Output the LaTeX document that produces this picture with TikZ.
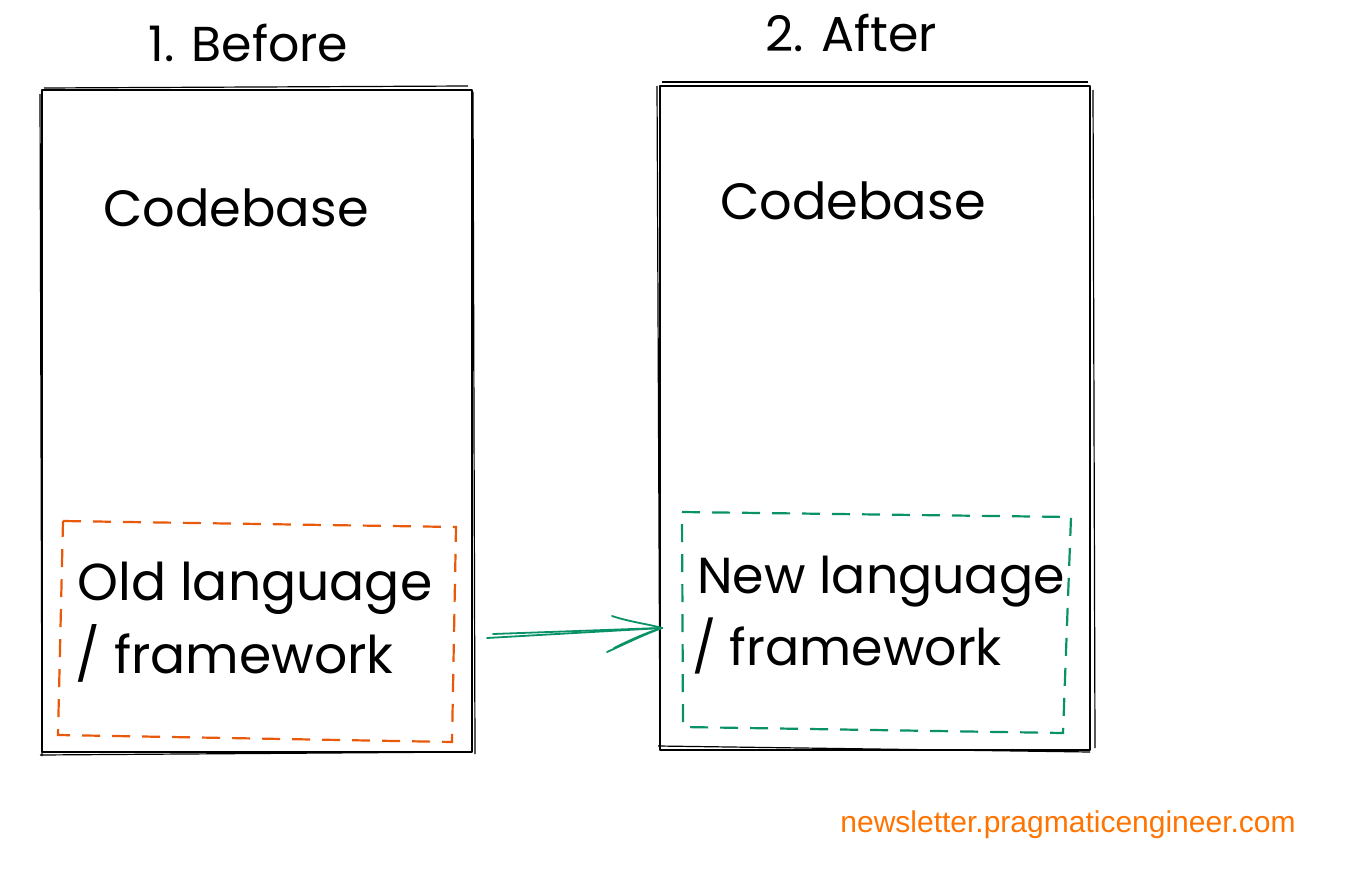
\documentclass[tikz,border=0pt]{standalone}
\usepackage{fontspec}
\setmainfont{Poppins}
\newfontfamily\footfont{Liberation Sans}
\usetikzlibrary{calc}
\definecolor{oldorange}{HTML}{E8590C}
\definecolor{newgreen}{HTML}{099268}
\definecolor{footorange}{HTML}{FF7300}
\tikzset{
  sketch/.style={draw=black, line width=1pt, line join=round},
  sketchthin/.style={draw=black, line width=0.6pt, line join=round},
  olddash/.style={draw=oldorange, line width=1.1pt, dash pattern=on 9pt off 6pt},
  newdash/.style={draw=newgreen, line width=1.1pt, dash pattern=on 9pt off 6pt},
  hand/.style={inner sep=0pt, anchor=base west, text=black},
  titletext/.style={hand, font=\fontsize{24.5}{29}\selectfont},
  codetext/.style={hand, font=\fontsize{25.5}{31}\selectfont},
  langtext/.style={hand, font=\fontsize{26}{32}\selectfont},
  newtext/.style={hand, font=\fontsize{25.3}{31}\selectfont},
  arrowline/.style={draw=newgreen, line width=0.9pt, line cap=round},
}
\begin{document}
\begin{tikzpicture}[x=0.5pt, y=-0.5pt]
\useasboundingbox (0,0) rectangle (1348,872);
% outer boxes as nodes
\node[sketch, minimum width=215pt, minimum height=331pt, inner sep=0pt] (Lbox) at (257,421) {};
\node[sketch, minimum width=215pt, minimum height=332pt, inner sep=0pt] (Rbox) at (875,418) {};
% sketchy second strokes
\draw[sketchthin] (44,88) -- (468,86);
\draw[sketchthin] (473,92) -- (475,754);
\draw[sketchthin] (40,755) -- (470,752);
\draw[sketchthin] (40,94) -- (42,756);
\draw[sketchthin] (662,82) -- (1088,82);
\draw[sketchthin] (1093,90) -- (1095,748);
\draw[sketchthin] (658,746) -- (1090,752);
\draw[sketchthin] (657,86) -- (660,750);
% titles
\node[titletext] (t1) at (148,62) {1. Before};
\node[titletext] (t2) at (765,52) {2. After};
% codebase labels
\node[codetext] (c1) at (103,226) {Codebase};
\node[codetext] (c2) at (720,219) {Codebase};
% dashed inner boxes
\draw[olddash] (63,521) -- (456,527) -- (452,742) -- (58,735) -- cycle;
\draw[newdash] (682,512) -- (1071,517) -- (1063,733) -- (683,727) -- cycle;
% language labels
\node[langtext] (o1) at (77,600) {Old language};
\node[langtext] (o2) at (75,673) {/ framework};
\node[newtext] (n1) at (697,593) {New language};
\node[newtext] (n2) at (692,665) {/ framework};
% arrow
\coordinate (as) at (487,638);
\coordinate (ae) at (662,628);
\draw[arrowline] (as) -- (ae);
\draw[arrowline] ($(as)+(6,-4)$) -- ($(ae)+(-2,0)$);
\draw[arrowline] (612,616) .. controls (630,622) and (648,624) .. (ae);
\draw[arrowline] (607,652) .. controls (625,644) and (645,634) .. (ae);
\draw[arrowline] (614,648) .. controls (630,640) and (648,632) .. (ae);
% footer
\node[inner sep=0pt, anchor=base west, text=footorange, font=\footfont\fontsize{15}{18}\selectfont] (foot) at (840,832) {newsletter.pragmaticengineer.com};
\end{tikzpicture}
\end{document}
